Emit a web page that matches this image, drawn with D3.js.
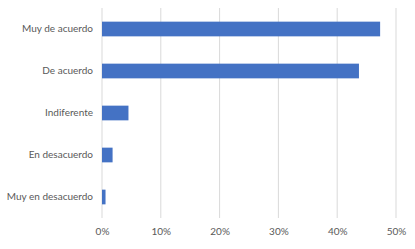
<!DOCTYPE html>
<html>
<head>
<meta charset="utf-8">
<script src="https://cdn.jsdelivr.net/npm/d3@7"></script>
<style>
  body { margin: 0; background: #fff; }
  text { font-family: Lato, "Open Sans", sans-serif; }
</style>
</head>
<body>
<div id="chart"></div>
<script>
const categories = ["Muy de acuerdo", "De acuerdo", "Indiferente", "En desacuerdo", "Muy en desacuerdo"];
const values = [0.473, 0.437, 0.045, 0.018, 0.006];
const tickValues = [0, 0.1, 0.2, 0.3, 0.4, 0.5];

const width = 415;
const height = 249;
const margin = { top: 8, right: 19, bottom: 31, left: 102 };

const svg = d3.select("#chart")
  .append("svg")
  .attr("width", width)
  .attr("height", height);

const x = d3.scaleLinear()
  .domain([0, 0.5])
  .range([margin.left, width - margin.right]);

const y = d3.scaleBand()
  .domain(categories)
  .range([margin.top, height - margin.bottom])
  .paddingInner(0.65)
  .paddingOuter(0.325);

// gridlines
svg.append("g")
  .selectAll("line")
  .data(tickValues)
  .enter()
  .append("line")
  .attr("x1", d => x(d))
  .attr("x2", d => x(d))
  .attr("y1", margin.top)
  .attr("y2", height - margin.bottom)
  .attr("stroke", "#d9d9d9")
  .attr("stroke-width", 1);

// x axis labels
const xAxis = svg.append("g")
  .attr("transform", `translate(0, ${height - margin.bottom})`)
  .call(d3.axisBottom(x).tickValues(tickValues).tickFormat(d3.format(".0%")).tickSize(0).tickPadding(10));
xAxis.select(".domain").remove();
xAxis.selectAll("text")
  .attr("fill", "#595959")
  .attr("font-size", "10px");

// y axis labels
const yAxis = svg.append("g")
  .attr("transform", `translate(${margin.left}, 0)`)
  .call(d3.axisLeft(y).tickSize(0).tickPadding(9));
yAxis.select(".domain").remove();
yAxis.selectAll("text")
  .attr("fill", "#595959")
  .attr("font-size", "10px");

// bars
svg.append("g")
  .selectAll("rect")
  .data(categories)
  .enter()
  .append("rect")
  .attr("x", x(0))
  .attr("y", d => y(d))
  .attr("width", (d, i) => x(values[i]) - x(0))
  .attr("height", y.bandwidth())
  .attr("fill", "#4472c4");
</script>
</body>
</html>
